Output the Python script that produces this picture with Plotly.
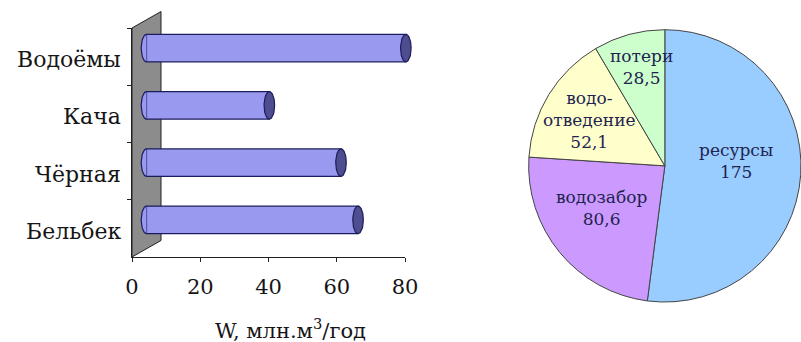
import numpy as np
import plotly.graph_objects as go

# ---- data ----
rivers = ["Водоёмы", "Кача", "Чёрная", "Бельбек"]
runoff = [76, 36, 57, 62]          # W, млн. м3/год
x_ticks = [0, 20, 40, 60, 80]

balance_labels = ["ресурсы", "водозабор", "водо-<br>отведение", "потери"]
balance_values = [175, 80.6, 52.1, 28.5]
balance_colors = ["#99ccff", "#cc99ff", "#ffffcc", "#ccffcc"]

W, H = 801, 342
SERIF = "DejaVu Serif, Liberation Serif, serif"
INK = "#151515"


def px(x):
    return x / W


def py(y):
    return (H - y) / H


# front plane of the bar chart (pixels)
X0, X1 = 132, 405
YT, YB = 28, 257
XMAX = 80
SCALE = (X1 - X0) / XMAX
# offset of the bars into the depth (half of the wall depth)
DX, DY = 14.5, 8.5
DEPTH_X, DEPTH_Y = 29, 16.5
PAD = 4   # room on the left of zero for the rounded bar starts

fig = go.Figure()

# invisible trace carrying the category axis of the front plane
fig.add_trace(go.Scatter(x=[0] * len(rivers), y=rivers, mode="markers",
                         marker=dict(opacity=0), hoverinfo="skip",
                         showlegend=False, xaxis="x", yaxis="y"))

idx = list(range(len(rivers)))
bar_w = 0.48
BODY = "#9999f0"
EDGE = "#1c1c5c"
fig.add_trace(go.Bar(x=runoff, y=idx, orientation="h", width=bar_w,
                     marker=dict(color=BODY, line=dict(color=EDGE, width=1.2)),
                     showlegend=False, xaxis="x2", yaxis="y2"))

# rounded start and dark end cap of each cylinder
a = 1.55          # half-width of the cap ellipse, data units
b = bar_w / 2
t_full = np.linspace(0, 2 * np.pi, 60)
t_half = np.linspace(np.pi / 2, 3 * np.pi / 2, 30)
for i, v in zip(idx, runoff):
    fig.add_trace(go.Scatter(x=a * np.cos(t_half), y=i + b * np.sin(t_half),
                             mode="lines", fill="toself", fillcolor=BODY,
                             line=dict(color=EDGE, width=1.2),
                             hoverinfo="skip", showlegend=False,
                             xaxis="x2", yaxis="y2"))
    fig.add_trace(go.Scatter(x=v + a * np.cos(t_full), y=i + b * np.sin(t_full),
                             mode="lines", fill="toself", fillcolor="#4d4d8f",
                             line=dict(color=EDGE, width=1.2),
                             hoverinfo="skip", showlegend=False,
                             xaxis="x2", yaxis="y2"))

# river names, right-aligned next to the wall
band = (YB - YT) / len(rivers)
for i, name in enumerate(rivers):
    fig.add_annotation(x=px(123), y=py(YT + (i + 0.5) * band + 3),
                       xref="paper", yref="paper", text=name,
                       showarrow=False, xanchor="right", yanchor="middle",
                       font=dict(family=SERIF, size=22, color=INK))

# pie of the water balance
fig.add_trace(go.Pie(values=balance_values, labels=balance_labels,
                     marker=dict(colors=balance_colors,
                                 line=dict(color="#444444", width=1)),
                     sort=False, direction="clockwise", rotation=0,
                     textinfo="none", hoverinfo="skip", showlegend=False,
                     domain=dict(x=[0.66, 1.0], y=[0.1, 0.93])))

# slice captions
label_pos = [(736, 161), (601, 208), (589, 120), (641, 67)]
for lab, val, (lx, ly) in zip(balance_labels, balance_values, label_pos):
    num = f"{val:g}".replace(".", ",")
    fig.add_annotation(x=px(lx), y=py(ly), xref="paper", yref="paper",
                       text=f"{lab}<br>{num}", showarrow=False,
                       font=dict(family=SERIF, size=17, color="#1e2450"),
                       align="center", xanchor="center", yanchor="middle")

# x-axis caption
fig.add_annotation(x=px(290), y=py(329), xref="paper", yref="paper",
                   text="W, млн.м<sup>3</sup>/год", showarrow=False,
                   font=dict(family=SERIF, size=21, color=INK),
                   xanchor="center", yanchor="middle")

# gray side wall of the 3-D bar chart
wall = (f"M {px(X0)} {py(YT)} L {px(X0 + DEPTH_X)} {py(YT - DEPTH_Y)} "
        f"L {px(X0 + DEPTH_X)} {py(YB - DEPTH_Y)} L {px(X0)} {py(YB)} Z")
fig.add_shape(type="path", path=wall, xref="paper", yref="paper",
              fillcolor="#8c8c8c", line=dict(color="#222222", width=1),
              layer="below")

fig.update_layout(
    width=W, height=H,
    margin=dict(l=0, r=0, t=0, b=0),
    paper_bgcolor="white", plot_bgcolor="rgba(0,0,0,0)",
    xaxis=dict(domain=[px(X0), px(X1)], range=[0, XMAX], tickvals=x_ticks,
               showgrid=False, zeroline=False, showline=True,
               linecolor="#222222", linewidth=1, ticks="outside",
               ticklen=4, tickcolor="#222222", ticklabelstandoff=7,
               tickfont=dict(family=SERIF, size=21, color=INK),
               automargin=False, anchor="y"),
    yaxis=dict(domain=[py(YB), py(YT)], type="category",
               categoryarray=rivers, range=[3.5, -0.5],
               tickson="boundaries", ticks="outside", ticklen=4,
               tickcolor="#222222", showgrid=False, zeroline=False,
               showline=True, linecolor="#222222", linewidth=1,
               showticklabels=False, automargin=False, anchor="x"),
    xaxis2=dict(domain=[px(X0 + DX - PAD * SCALE), px(X1 + DX)],
                range=[-PAD, XMAX], visible=False, automargin=False,
                anchor="y2"),
    yaxis2=dict(domain=[py(YB - DY), py(YT - DY)], range=[3.5, -0.5],
                visible=False, automargin=False, anchor="x2"),
)

fig.write_html("out.html")
